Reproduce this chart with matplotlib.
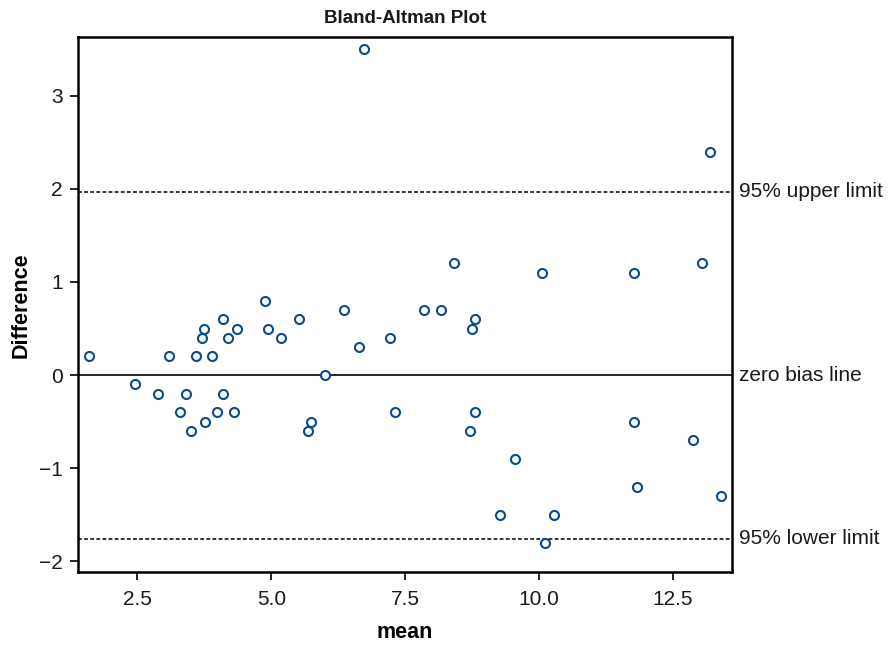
#!/usr/bin/env python3

import matplotlib
matplotlib.use("Agg")
import matplotlib.pyplot as plt

# mean of the two measurements
mean_vals = [1.60, 2.45, 2.88, 3.09, 3.29, 3.40, 3.50, 3.59, 3.71, 3.75,
             3.76, 3.89, 3.99, 4.10, 4.10, 4.19, 4.30, 4.37, 4.89, 4.94,
             5.19, 5.52, 5.69, 5.74, 6.00, 6.35, 6.63, 6.73, 7.21, 7.32,
             7.86, 8.17, 8.42, 8.71, 8.75, 8.81, 8.81, 9.27, 9.56, 10.06,
             10.11, 10.28, 11.77, 11.77, 11.83, 12.88, 13.04, 13.20, 13.39]
# difference between the two measurements
diff_vals = [0.2, -0.1, -0.2, 0.2, -0.4, -0.2, -0.6, 0.2, 0.4, 0.5,
             -0.5, 0.2, -0.4, 0.6, -0.2, 0.4, -0.4, 0.5, 0.8, 0.5,
             0.4, 0.6, -0.6, -0.5, 0.0, 0.7, 0.3, 3.5, 0.4, -0.4,
             0.7, 0.7, 1.2, -0.6, 0.5, 0.6, -0.4, -1.5, -0.9, 1.1,
             -1.8, -1.5, 1.1, -0.5, -1.2, -0.7, 1.2, 2.4, -1.3]

upper_limit = 1.97
lower_limit = -1.76
bias_line = 0.0
line_labels = ["95% upper limit", "zero bias line", "95% lower limit"]

plt.rcParams["font.family"] = ["Liberation Sans", "DejaVu Sans"]
plt.rcParams["text.color"] = "#1a1a1a"
plt.rcParams["xtick.labelcolor"] = "#1a1a1a"
plt.rcParams["ytick.labelcolor"] = "#1a1a1a"

fig = plt.figure(figsize=(8.91, 6.45), dpi=100)
ax = fig.add_axes([0.0874, 0.1127, 0.7340, 0.8295])

ax.axhline(bias_line, color="black", lw=1.2, zorder=1)
ax.axhline(upper_limit, color="black", lw=1.1, ls=(0, (2.5, 1.5)), zorder=1)
ax.axhline(lower_limit, color="black", lw=1.1, ls=(0, (2.5, 1.5)), zorder=1)

ax.plot(mean_vals, diff_vals, "o", ms=6.5, mfc="white", mec="#0b4a8b",
        mew=1.5, ls="none", zorder=3)

ax.set_xlim(1.39, 13.6)
ax.set_ylim(-2.12, 3.63)
ax.set_xticks([2.5, 5.0, 7.5, 10.0, 12.5])
ax.set_xticklabels(["2.5", "5.0", "7.5", "10.0", "12.5"])
ax.set_yticks([-2, -1, 0, 1, 2, 3])

for s in ax.spines.values():
    s.set_linewidth(1.8)
ax.tick_params(axis="both", direction="out", length=6, width=1.2,
               labelsize=15, pad=5)
ax.tick_params(axis="x", pad=7)

ax.set_title("Bland-Altman Plot", fontsize=13.5, fontweight="bold", pad=10)
ax.set_xlabel("mean", fontsize=15.5, fontweight="bold", labelpad=9)
ax.set_ylabel("Difference", fontsize=15.5, fontweight="bold", labelpad=5)

for yv, lab in zip([upper_limit, bias_line, lower_limit], line_labels):
    ax.annotate(lab, xy=(1.0, yv), xycoords=("axes fraction", "data"),
                xytext=(5, 0), textcoords="offset points",
                va="center", ha="left", fontsize=15)

fig.savefig("out.png", dpi=100)
